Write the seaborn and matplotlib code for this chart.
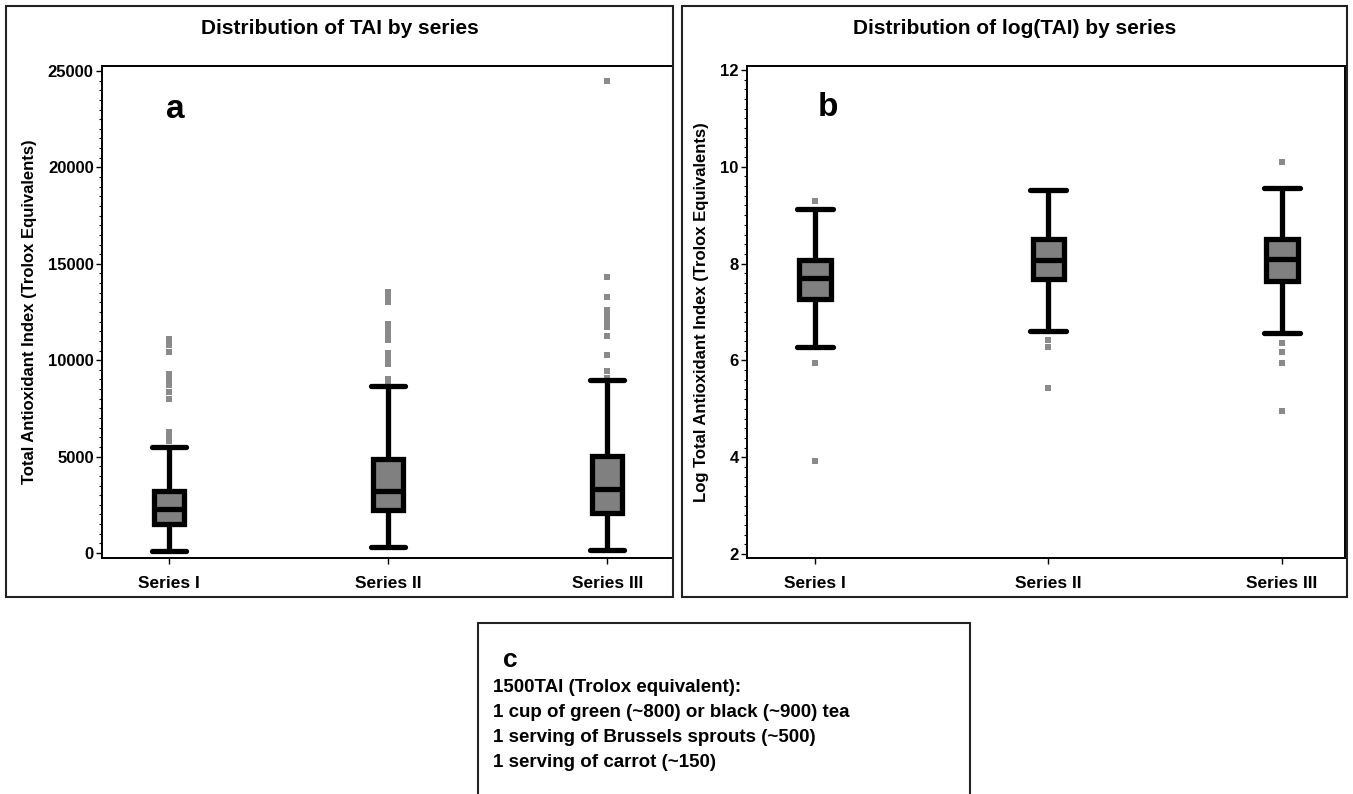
import numpy as np
import pandas as pd
import matplotlib
matplotlib.use("Agg")
import matplotlib.pyplot as plt
import seaborn as sns
from matplotlib.patches import Rectangle
from matplotlib.ticker import MultipleLocator

# ---------------- data ----------------
series = ["Series I", "Series II", "Series III"]

# panel a: TAI (Trolox equivalents) box statistics
tai_whisker_low = [120, 290, 170]
tai_q1 = [1520, 2210, 2070]
tai_median = [2270, 3230, 3330]
tai_q3 = [3200, 4890, 5010]
tai_whisker_high = [5520, 8640, 8950]
tai_outliers_I = [5800, 6050, 6300, 8000, 8350, 8700, 9000, 9300, 10450, 10800, 11100]
tai_outliers_II = [8800, 9050, 9800, 10050, 10350, 11050, 11350, 11650, 11900, 13000, 13300, 13550]
tai_outliers_III = [9100, 9450, 10250, 11250, 11700, 12000, 12300, 12600, 13300, 14300, 24500]

# panel b: log(TAI) box statistics
log_whisker_low = [6.27, 6.60, 6.57]
log_q1 = [7.27, 7.69, 7.64]
log_median = [7.71, 8.07, 8.10]
log_q3 = [8.07, 8.50, 8.50]
log_whisker_high = [9.13, 9.52, 9.56]
log_outliers_I = [9.29, 5.94, 3.93]
log_outliers_II = [6.43, 6.27, 5.44]
log_outliers_III = [10.10, 6.36, 6.17, 5.94, 4.96]

y_ticks_a = [0, 5000, 10000, 15000, 20000, 25000]
y_ticks_b = [2, 4, 6, 8, 10, 12]

title_a = "Distribution of TAI by series"
title_b = "Distribution of log(TAI) by series"
ylabel_a = "Total Antioxidant Index (Trolox Equivalents)"
ylabel_b = "Log Total Antioxidant Index (Trolox Equivalents)"
note_lines = ["1500TAI (Trolox equivalent):",
              "1 cup of green (~800) or black (~900) tea",
              "1 serving of Brussels sprouts (~500)",
              "1 serving of carrot (~150)"]


def box_frame(lo, q1, med, q3, hi):
    rows = []
    for s, a, b, c, d, e in zip(series, lo, q1, med, q3, hi):
        for v in (a, b, c, d, e):
            rows.append((s, v))
    return pd.DataFrame(rows, columns=["series", "value"])


def outlier_frame(groups):
    rows = []
    for s, vals in zip(series, groups):
        for v in vals:
            rows.append((s, v))
    return pd.DataFrame(rows, columns=["series", "value"])


box_a = box_frame(tai_whisker_low, tai_q1, tai_median, tai_q3, tai_whisker_high)
box_b = box_frame(log_whisker_low, log_q1, log_median, log_q3, log_whisker_high)
out_a = outlier_frame([tai_outliers_I, tai_outliers_II, tai_outliers_III])
out_b = outlier_frame([log_outliers_I, log_outliers_II, log_outliers_III])

# ---------------- style ----------------
sns.set_style("ticks")
plt.rcParams["font.family"] = ["Liberation Sans", "DejaVu Sans"]
plt.rcParams["font.weight"] = "bold"
for key in ["text.color", "axes.labelcolor", "xtick.color", "ytick.color", "axes.edgecolor"]:
    plt.rcParams[key] = "black"

W, H = 1353, 794
fig = plt.figure(figsize=(W / 100, H / 100), dpi=100)


def fr(x0, y0, x1, y1):
    return [x0 / W, 1 - y1 / H, (x1 - x0) / W, (y1 - y0) / H]


axa = fig.add_axes(fr(102, 66, 673, 558))
axb = fig.add_axes(fr(747, 66, 1345, 558))


def draw_panel(ax, box_df, out_df, ylim, xlim, yticks, minor, ylabel):
    sns.boxplot(data=box_df, x="series", y="value", order=series, ax=ax,
                width=0.135, whis=(0, 100), color="#808080", saturation=1,
                linecolor="black", linewidth=3.8, showfliers=False,
                capwidths=0.155)
    sns.stripplot(data=out_df, x="series", y="value", order=series, ax=ax,
                  jitter=False, marker="s", size=4.2, color="#8a8a8a",
                  linewidth=0, zorder=1)
    ax.set_xlim(*xlim)
    ax.set_ylim(*ylim)
    ax.set_yticks(yticks)
    ax.set_yticklabels([str(t) for t in yticks])
    ax.yaxis.set_minor_locator(MultipleLocator(minor))
    ax.set_xlabel("")
    ax.set_ylabel(ylabel, fontsize=12, fontweight="bold", labelpad=8, color="black")
    for sp in ax.spines.values():
        sp.set_visible(True)
        sp.set_linewidth(1.4)
        sp.set_color("black")
    ax.tick_params(axis="y", which="major", direction="out", length=4.5, width=1,
                   labelsize=12, pad=1.5, colors="black")
    ax.tick_params(axis="y", which="minor", direction="out", length=2.2, width=0.8,
                   colors="black")
    ax.tick_params(axis="x", which="major", direction="out", length=4, width=1,
                   labelsize=12.5, pad=9, colors="black")
    for lab in ax.get_xticklabels() + ax.get_yticklabels():
        lab.set_fontweight("bold")


draw_panel(axa, box_a, out_a, (-259, 25259), (-0.306, 2.30), y_ticks_a, 500, ylabel_a)
draw_panel(axb, box_b, out_b, (1.92, 12.08), (-0.29, 2.27), y_ticks_b, 0.2, ylabel_b)


# panel frames
def frame(x0, y0, x1, y1):
    fig.add_artist(Rectangle((x0 / W, 1 - y1 / H), (x1 - x0) / W, (y1 - y0) / H,
                             transform=fig.transFigure, fill=False,
                             edgecolor="#222222", linewidth=1.5))


frame(6, 6, 673, 597)
frame(682, 6, 1347, 597)
frame(478, 623, 970, 810)

# titles and panel letters
fig.text(340 / W, 1 - 28 / H, title_a, ha="center", va="center", fontsize=15,
         fontweight="bold", color="black")
fig.text(1015 / W, 1 - 28 / H, title_b, ha="center", va="center", fontsize=15,
         fontweight="bold", color="black")
fig.text(175 / W, 1 - 110 / H, "a", ha="center", va="center", fontsize=24,
         fontweight="bold", color="black")
fig.text(828 / W, 1 - 108 / H, "b", ha="center", va="center", fontsize=24,
         fontweight="bold", color="black")

# panel c note
fig.text(510 / W, 1 - 660 / H, "c", ha="center", va="center", fontsize=19,
         fontweight="bold", color="black")
for i, line in enumerate(note_lines):
    fig.text(493 / W, 1 - (688 + 24.7 * i) / H, line, ha="left", va="center",
             fontsize=13.5, fontweight="bold", color="black")

fig.savefig("out.png", dpi=100)
